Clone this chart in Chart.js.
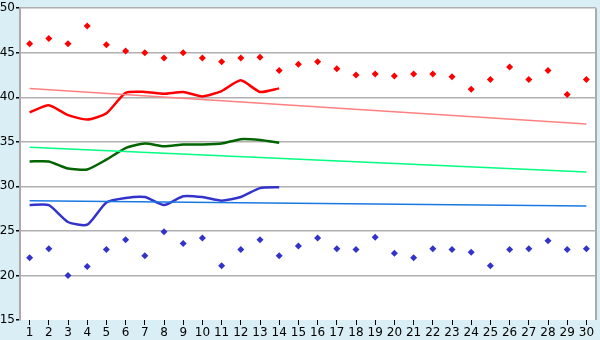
<!DOCTYPE html>
<html>
<head>
<meta charset="utf-8">
<script src="https://cdn.jsdelivr.net/npm/chart.js@4/dist/chart.umd.min.js"></script>
<style>
  html, body { margin: 0; padding: 0; background: #daeef5; }
  #wrap { width: 600px; height: 340px; }
</style>
</head>
<body>
<div id="wrap"><canvas id="c" width="600" height="340"></canvas></div>
<script>
const categories = ['1','2','3','4','5','6','7','8','9','10','11','12','13','14','15','16','17','18','19','20','21','22','23','24','25','26','27','28','29','30'];
const highPoints = [46, 46.6, 46, 48, 45.9, 45.2, 45, 44.4, 45, 44.4, 44, 44.4, 44.5, 43, 43.7, 44, 43.2, 42.5, 42.6, 42.4, 42.6, 42.6, 42.3, 40.9, 42, 43.4, 42, 43, 40.3, 42];
const lowPoints = [22, 23, 20, 21, 22.9, 24, 22.2, 24.9, 23.6, 24.2, 21.1, 22.9, 24, 22.2, 23.3, 24.2, 23, 22.9, 24.3, 22.5, 22, 23, 22.9, 22.6, 21.1, 22.9, 23, 23.9, 22.9, 23];
const redLine = [38.3, 39.1, 38, 37.5, 38.2, 40.5, 40.6, 40.4, 40.6, 40.1, 40.7, 41.9, 40.6, 41];
const greenLine = [32.8, 32.8, 32, 31.9, 33, 34.3, 34.8, 34.5, 34.7, 34.7, 34.8, 35.3, 35.2, 34.9];
const blueLine = [27.9, 27.9, 26, 25.7, 28.2, 28.7, 28.8, 27.9, 28.9, 28.8, 28.4, 28.8, 29.8, 29.9];
// trend lines: start (category 1) and end (category 30) values
const redTrend = [41.0, 37.0];
const greenTrend = [34.4, 31.6];
const blueTrend = [28.4, 27.8];
const yTicks = [15, 20, 25, 30, 35, 40, 45, 50];

function trendData(ends) {
  return [{x: categories[0], y: ends[0]}, {x: categories[categories.length - 1], y: ends[1]}];
}

const frame = {
  id: 'frame',
  beforeDraw(chart) {
    const a = chart.chartArea, ctx = chart.ctx;
    ctx.save();
    ctx.fillStyle = '#daeef5';
    ctx.fillRect(0, 0, chart.width, chart.height);
    ctx.fillStyle = '#ffffff';
    ctx.fillRect(a.left, a.top, a.right - a.left, a.bottom - a.top);
    ctx.restore();
  },
  afterDraw(chart) {
    const a = chart.chartArea, ctx = chart.ctx;
    ctx.save();
    ctx.strokeStyle = '#aaaaaa';
    ctx.lineWidth = 2;
    ctx.beginPath();
    ctx.moveTo(a.right, a.top);
    ctx.lineTo(a.right, a.bottom);
    ctx.stroke();
    ctx.restore();
  }
};

new Chart(document.getElementById('c'), {
  type: 'line',
  data: {
    labels: categories,
    datasets: [
      { data: trendData(redTrend), borderColor: '#ff8080', borderWidth: 1.5, pointRadius: 0, tension: 0 },
      { data: trendData(greenTrend), borderColor: '#00ff80', borderWidth: 1.5, pointRadius: 0, tension: 0 },
      { data: trendData(blueTrend), borderColor: '#1a78e0', borderWidth: 1.5, pointRadius: 0, tension: 0 },
      { data: redLine, borderColor: '#ff0000', borderWidth: 2.5, pointRadius: 0, tension: 0.2 },
      { data: greenLine, borderColor: '#006400', borderWidth: 2.5, pointRadius: 0, tension: 0.2 },
      { data: blueLine, borderColor: '#3333cc', borderWidth: 2.5, pointRadius: 0, tension: 0.2 },
      { data: highPoints, showLine: false, pointStyle: 'rectRot', pointRadius: 3.5, pointBackgroundColor: '#ff0000', pointBorderColor: '#ff0000', pointBorderWidth: 0 },
      { data: lowPoints, showLine: false, pointStyle: 'rectRot', pointRadius: 3.5, pointBackgroundColor: '#3333cc', pointBorderColor: '#3333cc', pointBorderWidth: 0 }
    ]
  },
  options: {
    responsive: false,
    animation: false,
    layout: { padding: { top: 5, right: 4, left: 0, bottom: 0 } },
    plugins: { legend: { display: false }, tooltip: { enabled: false } },
    scales: {
      x: {
        type: 'category',
        offset: true,
        grid: { display: true, drawOnChartArea: false, drawTicks: true, tickLength: 5, tickColor: '#000000', offset: false },
        border: { display: false },
        ticks: { color: '#000', font: { family: 'DejaVu Sans', size: 12 }, padding: 1, maxRotation: 0, autoSkip: false },
        afterFit(s) { s.height = 20; }
      },
      y: {
        min: 15, max: 50,
        afterBuildTicks(s) { s.ticks = yTicks.map(v => ({ value: v })); },
        grid: {
          color: ctx => (ctx.tick && ctx.tick.value === 15) ? 'rgba(0,0,0,0)' : '#b0b0b0',
          lineWidth: 1.5,
          tickLength: 4, tickColor: '#000000'
        },
        border: { display: true, color: '#aaaaaa', width: 2 },
        ticks: { color: '#000', font: { family: 'DejaVu Sans', size: 12 }, padding: 1 },
        afterFit(s) { s.width = 20; }
      }
    }
  },
  plugins: [frame]
});
</script>
</body>
</html>
